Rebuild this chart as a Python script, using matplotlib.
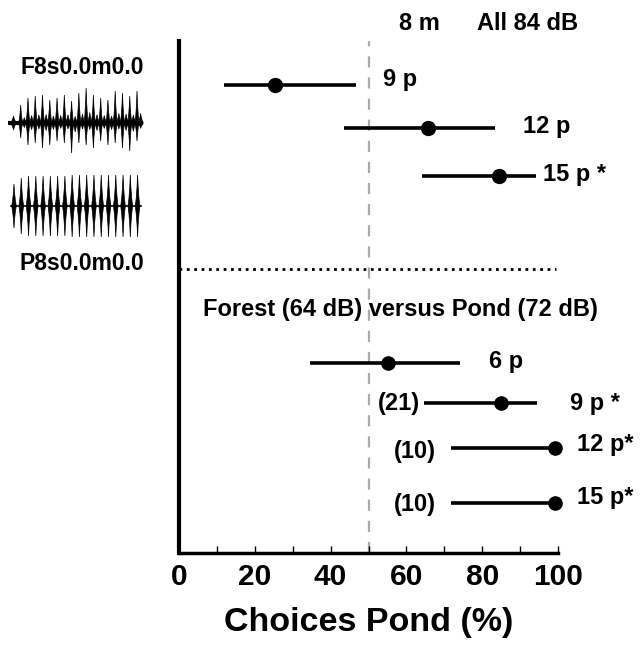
import numpy as np
import matplotlib
matplotlib.use('Agg')
import matplotlib.pyplot as plt

plt.rcParams['font.family'] = ['Liberation Sans', 'DejaVu Sans']
plt.rcParams['font.weight'] = 'bold'

# top block: 8 m, all 84 dB
top_labels = ['9 p', '12 p', '15 p *']
top_mean = [25.3, 65.7, 84.5]
top_low = [11.9, 43.5, 64.1]
top_high = [46.8, 83.2, 94.2]
top_rows = [1.03, 2.04, 3.16]

# bottom block: forest 64 dB vs pond 72 dB
bot_labels = ['6 p', '9 p *', '12 p*', '15 p*']
bot_mean = [55.2, 85.0, 99.0, 99.0]
bot_low = [34.5, 64.6, 71.8, 71.8]
bot_high = [74.2, 94.5, 99.0, 99.0]
bot_rows = [7.55, 8.48, 9.54, 10.83]
bot_n = ['', '(21)', '(10)', '(10)']

xticks = [0, 20, 40, 60, 80, 100]

# oscillogram pulse heights (px)
f_up = [18, 25, 27, 28, 23, 25, 28, 22, 30, 35, 28, 25, 23, 32, 30, 27, 32]
f_dn = [15, 22, 20, 25, 22, 18, 20, 30, 20, 22, 25, 18, 22, 20, 25, 28, 18]
p_amp = [22, 28, 30, 30, 30, 30, 30, 30, 31, 31, 31, 31, 31, 31, 31, 31, 31, 31]

W, H = 642, 649
fig = plt.figure(figsize=(6.42, 6.49), dpi=100)

x0, x1 = 178.7, 558.3
y0, y1 = 41, 553
ax = fig.add_axes([x0 / W, 1 - y1 / H, (x1 - x0) / W, (y1 - y0) / H])
ax.set_xlim(0, 100)
ax.set_ylim(12, 0)

ax.spines['top'].set_visible(False)
ax.spines['right'].set_visible(False)
ax.spines['left'].set_linewidth(3)
ax.spines['bottom'].set_linewidth(2.5)
ax.set_yticks([])
ax.set_xticks(xticks)
ax.set_xticks([10, 30, 50, 70, 90], minor=True)
ax.tick_params(axis='x', which='both', direction='in', length=5, width=1,
               labelsize=21.5, pad=7)
for t in ax.get_xticklabels():
    t.set_fontweight('bold')
ax.set_xlabel('Choices Pond (%)', fontsize=24.5, fontweight='bold', labelpad=12)

ax.axvline(50, color='#aaaaaa', lw=1.6, dashes=(5, 4.5), zorder=1)
ax.plot([0, 99.3], [5.34, 5.34], color='black', lw=2, ls=':', zorder=2)

for m, lo, hi, r in zip(top_mean, top_low, top_high, top_rows):
    ax.plot([lo, hi], [r, r], color='black', lw=2.6, solid_capstyle='butt')
    ax.plot(m, r, 'o', color='black', ms=10, clip_on=False)
for m, lo, hi, r in zip(bot_mean, bot_low, bot_high, bot_rows):
    ax.plot([lo, hi], [r, r], color='black', lw=2.6, solid_capstyle='butt')
    ax.plot(m, r, 'o', color='black', ms=9.5, clip_on=False)

fs = 17
ax.text(53.8, 0.91, top_labels[0], fontsize=fs, va='center')
ax.text(90.7, 2.0, top_labels[1], fontsize=fs, va='center')
ax.text(96.0, 3.12, top_labels[2], fontsize=fs, va='center')
ax.text(81.8, 7.52, bot_labels[0], fontsize=fs, va='center')
ax.text(103.0, 8.5, bot_labels[1], fontsize=fs, va='center')
ax.text(105.0, 9.45, bot_labels[2], fontsize=fs, va='center')
ax.text(105.0, 10.7, bot_labels[3], fontsize=fs, va='center')
ax.text(63.6, 8.5, bot_n[1], fontsize=fs, va='center', ha='right')
ax.text(62.2, 9.62, bot_n[2], fontsize=fs, va='center', ha='center')
ax.text(62.2, 10.86, bot_n[3], fontsize=fs, va='center', ha='center')

ax.text(63.5, -0.42, '8 m', fontsize=17, va='center', ha='center')
ax.text(92.0, -0.42, 'All 84 dB', fontsize=17, va='center', ha='center')
ax.text(58.3, 6.3, 'Forest (64 dB) versus Pond (72 dB)', fontsize=17,
        va='center', ha='center')

fig.text(82 / W, 1 - 67 / H, 'F8s0.0m0.0', fontsize=16.5, ha='center', va='center')
fig.text(82 / W, 1 - 263 / H, 'P8s0.0m0.0', fontsize=16.5, ha='center', va='center')


def pulse(a, c, up, dn, w):
    xs = [c, c + 0.25 * w, c + 0.6 * w, c + w, c + 0.6 * w, c + 0.25 * w, c,
          c - 0.25 * w, c - 0.6 * w, c - w, c - 0.6 * w, c - 0.25 * w]
    ys = [up, up * 0.6, up * 0.25, 0, -dn * 0.25, -dn * 0.6, -dn,
          -dn * 0.6, -dn * 0.25, 0, up * 0.25, up * 0.6]
    a.fill(xs, ys, color='black', lw=0.5)


# forest oscillogram
wa = fig.add_axes([8 / W, 1 - 158 / H, 136 / W, 70 / H])
wa.set_xlim(8, 144)
wa.set_ylim(-35, 35)
wa.axis('off')
step = 7.27
for i, (u, d) in enumerate(zip(f_up, f_dn)):
    c = 20.7 + i * step
    pulse(wa, c, u, d, 2.0)
    pulse(wa, c + step / 2, u * 0.3, d * 0.3, 2.6)
pulse(wa, 13.5, 7, 7, 3)
wa.plot([10, 141], [0, 0], color='black', lw=3)

# pond oscillogram
wb = fig.add_axes([8 / W, 1 - 241 / H, 136 / W, 70 / H])
wb.set_xlim(8, 144)
wb.set_ylim(-35, 35)
wb.axis('off')
for i, a in enumerate(p_amp):
    pulse(wb, 14 + i * step, a, a, 2.3)
wb.plot([11, 141], [0, 0], color='black', lw=1.2)

fig.savefig('out.png', dpi=100)
